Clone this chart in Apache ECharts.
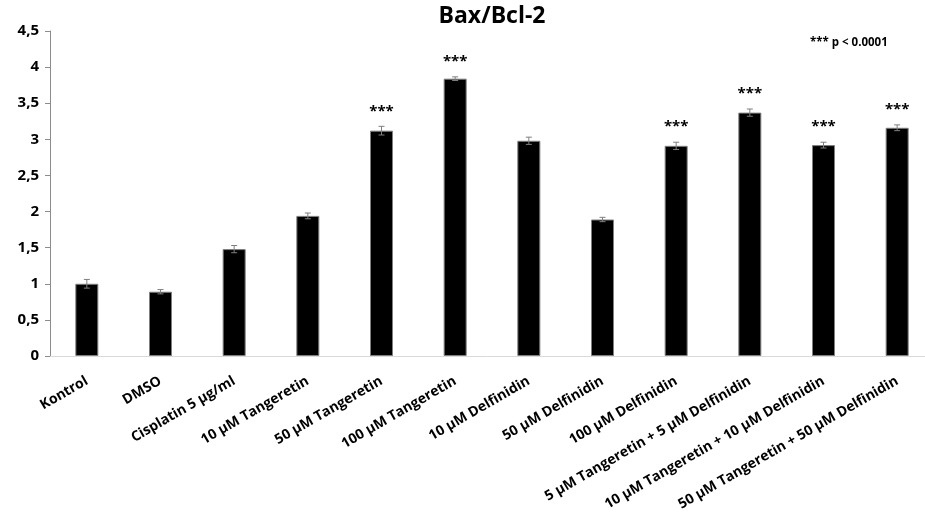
<!DOCTYPE html>
<html><head><meta charset="utf-8">
<script src="https://cdn.jsdelivr.net/npm/echarts@6/dist/echarts.min.js"></script>
<style>html,body{margin:0;padding:0;background:#fff}#c{width:925px;height:522px}</style>
</head><body><div id="c"></div>
<script>
const categories = ['Kontrol','DMSO','Cisplatin 5 μg/ml','10 μM Tangeretin','50 μM Tangeretin','100 μM Tangeretin','10 μM Delfinidin','50 μM Delfinidin','100 μM Delfinidin','5 μM Tangeretin + 5 μM Delfinidin','10 μM Tangeretin + 10 μM Delfinidin','50 μM Tangeretin + 50 μM Delfinidin'];
const values = [1.00, 0.89, 1.48, 1.94, 3.12, 3.84, 2.98, 1.89, 2.91, 3.37, 2.92, 3.16];
const errors = [0.06, 0.03, 0.05, 0.04, 0.06, 0.025, 0.05, 0.03, 0.05, 0.05, 0.04, 0.04];
const significance = ['', '', '', '', '***', '***', '', '', '***', '***', '***', '***'];
const yTicks = ['0','0,5','1','1,5','2','2,5','3','3,5','4','4,5'];

const font = '"Open Sans", "Noto Sans", sans-serif';
const chart = echarts.init(document.getElementById('c'));
chart.setOption({
  animation: false,
  title: {
    text: 'Bax/Bcl-2', left: 487, top: 0, textAlign: 'center',
    textStyle: { fontFamily: font, fontWeight: 'bold', fontSize: 23, color: '#000' }
  },
  graphic: [{
    type: 'text', left: 810, top: 37,
    style: { text: '*** p < 0.0001', fontFamily: font, fontWeight: 'bold', fontSize: 11.5, fill: '#000' }
  }],
  grid: { left: 50, width: 884, top: 31, height: 325, containLabel: false, outerBoundsMode: 'none' },
  xAxis: {
    type: 'category', data: categories,
    axisLine: { lineStyle: { color: '#d9d9d9', width: 1 } },
    axisTick: { show: false },
    axisLabel: { rotate: 30, interval: 0, margin: 24, fontFamily: font, fontWeight: 'bold', fontSize: 14, color: '#000' }
  },
  yAxis: {
    type: 'value', min: 0, max: 4.5, interval: 0.5,
    axisLine: { show: true, lineStyle: { color: '#8c8c8c', width: 1 } },
    axisTick: { show: true, length: 5, lineStyle: { color: '#8c8c8c' } },
    splitLine: { show: false },
    axisLabel: {
      margin: 11, fontFamily: font, fontWeight: 'bold', fontSize: 15, color: '#000',
      formatter: v => yTicks[Math.round(v / 0.5)]
    }
  },
  series: [
    {
      type: 'bar', data: values, barWidth: 23,
      itemStyle: { color: '#000', borderColor: '#7f7f7f', borderWidth: 1 }
    },
    {
      type: 'custom', z: 10,
      data: values.map((v, i) => [i, v, errors[i]]),
      renderItem: function (params, api) {
        const i = api.value(0), v = api.value(1), e = api.value(2);
        const sig = significance[i];
        const top = api.coord([i, v + e]);
        const bot = api.coord([i, v - e]);
        const hw = 3;
        const st = { stroke: '#7f7f7f', lineWidth: 1 };
        const children = [
          { type: 'line', shape: { x1: top[0], y1: top[1], x2: bot[0], y2: bot[1] }, style: st },
          { type: 'line', shape: { x1: top[0] - hw, y1: top[1], x2: top[0] + hw, y2: top[1] }, style: st },
          { type: 'line', shape: { x1: bot[0] - hw, y1: bot[1], x2: bot[0] + hw, y2: bot[1] }, style: st }
        ];
        if (sig) {
          children.push({ type: 'text', x: top[0], y: top[1] - 15,
            style: { text: sig, fontFamily: font, fontWeight: 'bold', fontSize: 15, fill: '#000', align: 'center', verticalAlign: 'middle' } });
        }
        return { type: 'group', children: children };
      }
    }
  ]
});
</script></body></html>
